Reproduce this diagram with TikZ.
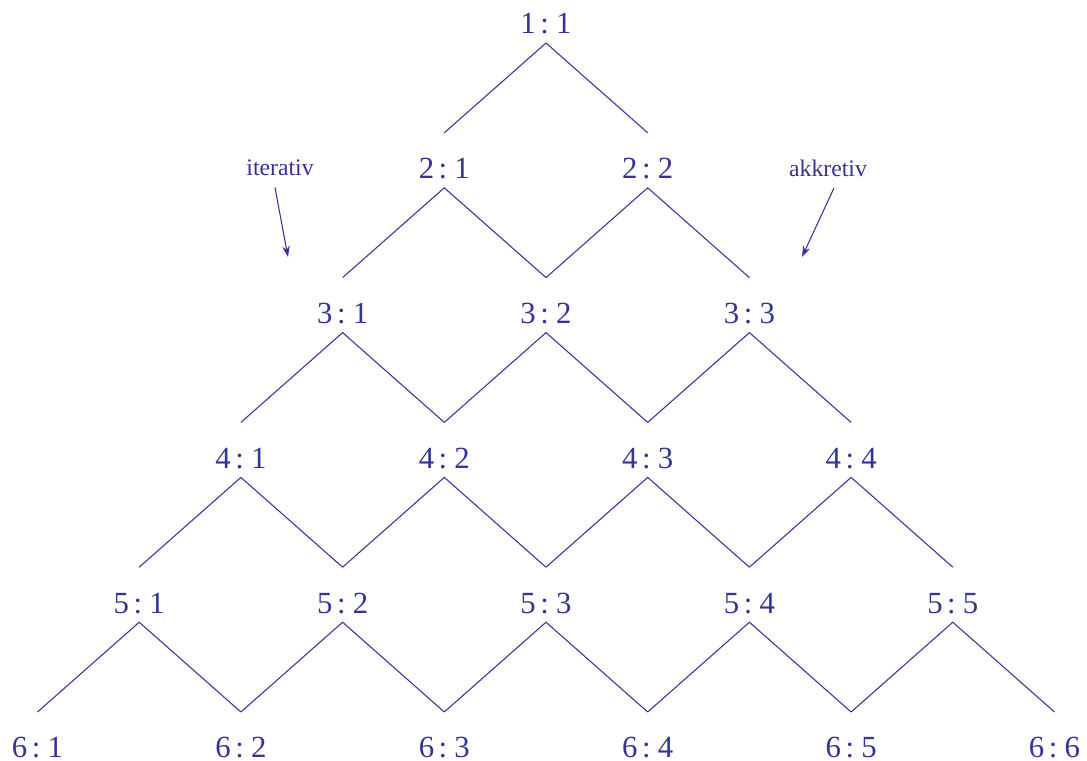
\documentclass[tikz,border=0pt]{standalone}
\usepackage{fontspec}
\setmainfont{Liberation Serif}
\usetikzlibrary{arrows.meta}
\definecolor{ink}{RGB}{51,51,153}
\newcommand{\ratiofont}{\fontsize{17.5}{20}\selectfont\setlength{\spaceskip}{0.15em}}

\begin{document}
\begin{tikzpicture}[>={Stealth[length=2.2mm,width=1.5mm]},line width=0.6pt,
  every node/.style={text=ink,inner sep=0pt},
  ratio/.style={font=\ratiofont},
  note/.style={font=\fontsize{13.5}{16}\selectfont},
  edge/.style={draw=ink,line join=miter}]
\useasboundingbox (0,0) rectangle (21.74,15.2);
% the rows
\node[ratio] (n11) at (10.92,14.72) {1 : 1};
\node[ratio] (n21) at (8.886,11.824) {2 : 1};
\node[ratio] (n22) at (12.954,11.824) {2 : 2};
\node[ratio] (n31) at (6.852,8.928) {3 : 1};
\node[ratio] (n32) at (10.92,8.928) {3 : 2};
\node[ratio] (n33) at (14.988,8.928) {3 : 3};
\node[ratio] (n41) at (4.818,6.032) {4 : 1};
\node[ratio] (n42) at (8.886,6.032) {4 : 2};
\node[ratio] (n43) at (12.954,6.032) {4 : 3};
\node[ratio] (n44) at (17.022,6.032) {4 : 4};
\node[ratio] (n51) at (2.784,3.136) {5 : 1};
\node[ratio] (n52) at (6.852,3.136) {5 : 2};
\node[ratio] (n53) at (10.92,3.136) {5 : 3};
\node[ratio] (n54) at (14.988,3.136) {5 : 4};
\node[ratio] (n55) at (19.056,3.136) {5 : 5};
\node[ratio] (n61) at (0.75,0.24) {6 : 1};
\node[ratio] (n62) at (4.818,0.24) {6 : 2};
\node[ratio] (n63) at (8.886,0.24) {6 : 3};
\node[ratio] (n64) at (12.954,0.24) {6 : 4};
\node[ratio] (n65) at (17.022,0.24) {6 : 5};
\node[ratio] (n66) at (21.09,0.24) {6 : 6};
% the zigzags
\path[edge] ([yshift=7.2mm]n21.center) -- ([yshift=-3.8mm]n11.center) -- ([yshift=7.2mm]n22.center);
\path[edge] ([yshift=7.2mm]n31.center) -- ([yshift=-3.8mm]n21.center) -- ([yshift=7.2mm]n32.center);
\path[edge] ([yshift=7.2mm]n32.center) -- ([yshift=-3.8mm]n22.center) -- ([yshift=7.2mm]n33.center);
\path[edge] ([yshift=7.2mm]n41.center) -- ([yshift=-3.8mm]n31.center) -- ([yshift=7.2mm]n42.center);
\path[edge] ([yshift=7.2mm]n42.center) -- ([yshift=-3.8mm]n32.center) -- ([yshift=7.2mm]n43.center);
\path[edge] ([yshift=7.2mm]n43.center) -- ([yshift=-3.8mm]n33.center) -- ([yshift=7.2mm]n44.center);
\path[edge] ([yshift=7.2mm]n51.center) -- ([yshift=-3.8mm]n41.center) -- ([yshift=7.2mm]n52.center);
\path[edge] ([yshift=7.2mm]n52.center) -- ([yshift=-3.8mm]n42.center) -- ([yshift=7.2mm]n53.center);
\path[edge] ([yshift=7.2mm]n53.center) -- ([yshift=-3.8mm]n43.center) -- ([yshift=7.2mm]n54.center);
\path[edge] ([yshift=7.2mm]n54.center) -- ([yshift=-3.8mm]n44.center) -- ([yshift=7.2mm]n55.center);
\path[edge] ([yshift=7.2mm]n61.center) -- ([yshift=-3.8mm]n51.center) -- ([yshift=7.2mm]n62.center);
\path[edge] ([yshift=7.2mm]n62.center) -- ([yshift=-3.8mm]n52.center) -- ([yshift=7.2mm]n63.center);
\path[edge] ([yshift=7.2mm]n63.center) -- ([yshift=-3.8mm]n53.center) -- ([yshift=7.2mm]n64.center);
\path[edge] ([yshift=7.2mm]n64.center) -- ([yshift=-3.8mm]n54.center) -- ([yshift=7.2mm]n65.center);
\path[edge] ([yshift=7.2mm]n65.center) -- ([yshift=-3.8mm]n55.center) -- ([yshift=7.2mm]n66.center);
% the two notes
\node[note] (iter) at (5.6,11.84) {iterativ};
\node[note] (akkr) at (16.56,11.84) {akkretiv};
\coordinate (iterTip) at (5.76,10.06);
\coordinate (akkrTip) at (16.04,10.06);
\draw[ink,->] ([xshift=-1mm,yshift=-2.2mm]iter.south) -- (iterTip);
\draw[ink,->] ([xshift=1.2mm,yshift=-2.2mm]akkr.south) -- (akkrTip);
\end{tikzpicture}
\end{document}
